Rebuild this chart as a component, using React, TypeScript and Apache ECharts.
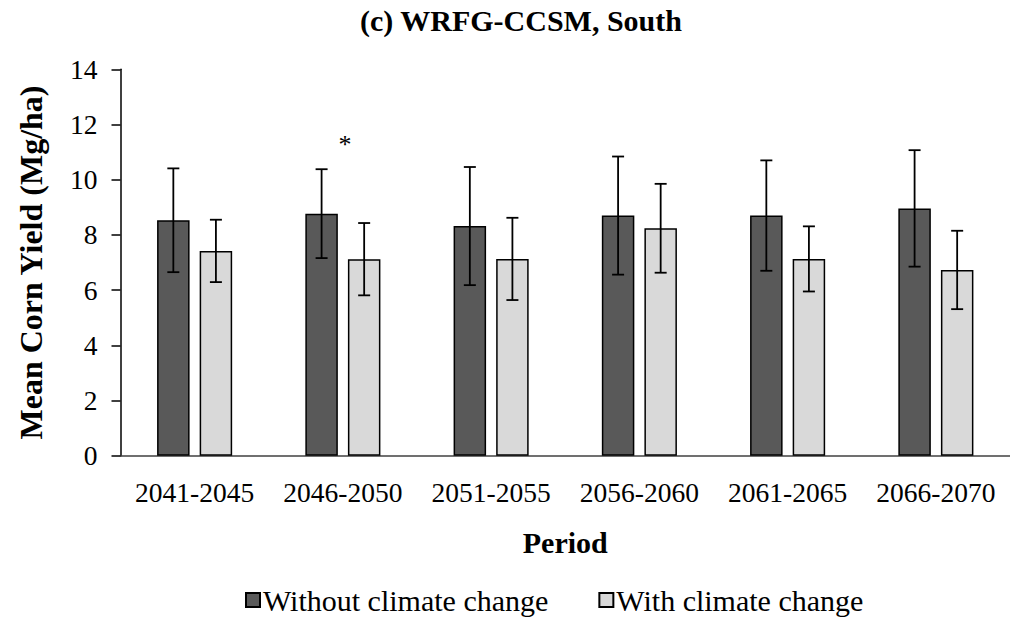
import React, { useEffect, useRef } from "react";
import * as echarts from "echarts";

// Mean corn yield (Mg/ha) by five-year period, with standard deviations
const periods = ["2041-2045", "2046-2050", "2051-2055", "2056-2060", "2061-2065", "2066-2070"];
const withoutCC = [8.53, 8.77, 8.32, 8.7, 8.7, 8.96];
const withoutCCErr = [1.88, 1.61, 2.14, 2.14, 2.0, 2.11];
const withCC = [7.42, 7.12, 7.13, 8.24, 7.13, 6.73];
const withCCErr = [1.13, 1.31, 1.49, 1.61, 1.18, 1.42];
const significance = ["", "*", "", "", "", ""];

const FONT = "Liberation Serif, Times New Roman, serif";
const BAR_W = 32.5;
const BAR_GAP = 0.31;
const HALF_SHIFT = (BAR_W + BAR_W * BAR_GAP) / 2;

function errorSeries(values: number[], errs: number[], shift: number) {
  return {
    type: "custom",
    silent: true,
    clip: false,
    z: 5,
    data: values.map((v, i) => [i, v, errs[i]]),
    renderItem: (_params: any, api: any) => {
      const idx = api.value(0);
      const v = api.value(1);
      const e = api.value(2);
      const top = api.coord([idx, v + e]);
      const bot = api.coord([idx, v - e]);
      const x = top[0] + shift;
      const cap = 6;
      const style = { stroke: "#000", lineWidth: 1.8 };
      return {
        type: "group",
        children: [
          { type: "line", shape: { x1: x, y1: top[1], x2: x, y2: bot[1] }, style },
          { type: "line", shape: { x1: x - cap, y1: top[1], x2: x + cap, y2: top[1] }, style },
          { type: "line", shape: { x1: x - cap, y1: bot[1], x2: x + cap, y2: bot[1] }, style },
        ],
      };
    },
  };
}

export default function App() {
  const ref = useRef<HTMLDivElement>(null);

  useEffect(() => {
    if (!ref.current) return;
    const chart = echarts.init(ref.current, undefined, { renderer: "svg" });

    const sigData = significance
      .map((s, i) =>
        s
          ? [i, Math.max(withoutCC[i] + withoutCCErr[i], withCC[i] + withCCErr[i]), s]
          : null
      )
      .filter((d) => d !== null);

    chart.setOption({
      animation: false,
      textStyle: { fontFamily: FONT },
      title: {
        text: "(c) WRFG-CCSM, South",
        left: 516,
        top: 0,
        textAlign: "center",
        textStyle: { fontFamily: FONT, fontWeight: "bold", fontSize: 30, color: "#000" },
      },
      legend: {
        data: ["Without climate change", "With climate change"],
        left: 240,
        top: 580,
        icon: "rect",
        itemWidth: 14,
        itemHeight: 14,
        itemGap: 50,
        textStyle: { fontFamily: FONT, fontSize: 30, color: "#000", padding: [0, 0, 0, -2] },
      },
      grid: { left: 120.5, top: 69.3, width: 894, height: 386.4 },
      xAxis: {
        type: "category",
        data: periods,
        axisLine: { lineStyle: { color: "#404040", width: 1.5 } },
        axisTick: { show: false },
        axisLabel: { interval: 0, fontFamily: FONT, fontSize: 27.5, color: "#000", margin: 23 },
        name: "Period",
        nameLocation: "middle",
        nameGap: 72,
        nameTextStyle: { fontFamily: FONT, fontWeight: "bold", fontSize: 30, color: "#000" },
      },
      yAxis: {
        type: "value",
        min: 0,
        max: 14,
        interval: 2,
        axisLine: { show: true, lineStyle: { color: "#000", width: 1.5 } },
        axisTick: { show: true, length: 9, lineStyle: { color: "#000", width: 1.5 } },
        axisLabel: { fontFamily: FONT, fontSize: 27.5, color: "#000", margin: 23 },
        splitLine: { show: false },
        name: "Mean Corn Yield (Mg/ha)",
        nameLocation: "middle",
        nameGap: 74,
        nameTextStyle: { fontFamily: FONT, fontWeight: "bold", fontSize: 32, color: "#000" },
      },
      series: [
        {
          name: "Without climate change",
          type: "bar",
          data: withoutCC,
          barWidth: BAR_W,
          barGap: `${BAR_GAP * 100}%`,
          itemStyle: { color: "#595959", borderColor: "#000", borderWidth: 1.5 },
        },
        {
          name: "With climate change",
          type: "bar",
          data: withCC,
          barWidth: BAR_W,
          itemStyle: { color: "#d9d9d9", borderColor: "#000", borderWidth: 1.5 },
        },
        errorSeries(withoutCC, withoutCCErr, -HALF_SHIFT),
        errorSeries(withCC, withCCErr, HALF_SHIFT),
        {
          type: "custom",
          silent: true,
          clip: false,
          z: 6,
          data: sigData,
          renderItem: (_params: any, api: any) => {
            const pt = api.coord([api.value(0), api.value(1)]);
            return {
              type: "text",
              style: {
                text: significance[api.value(0)],
                x: pt[0] + 2,
                y: pt[1] - 25,
                align: "center",
                verticalAlign: "middle",
                fontFamily: FONT,
                fontSize: 26,
                fill: "#000",
              },
            };
          },
        },
      ],
    });

    return () => chart.dispose();
  }, []);

  return (
    <div
      ref={ref}
      style={{ position: "fixed", left: 0, top: 0, width: 1010, height: 627, background: "#fff" }}
    />
  );
}
